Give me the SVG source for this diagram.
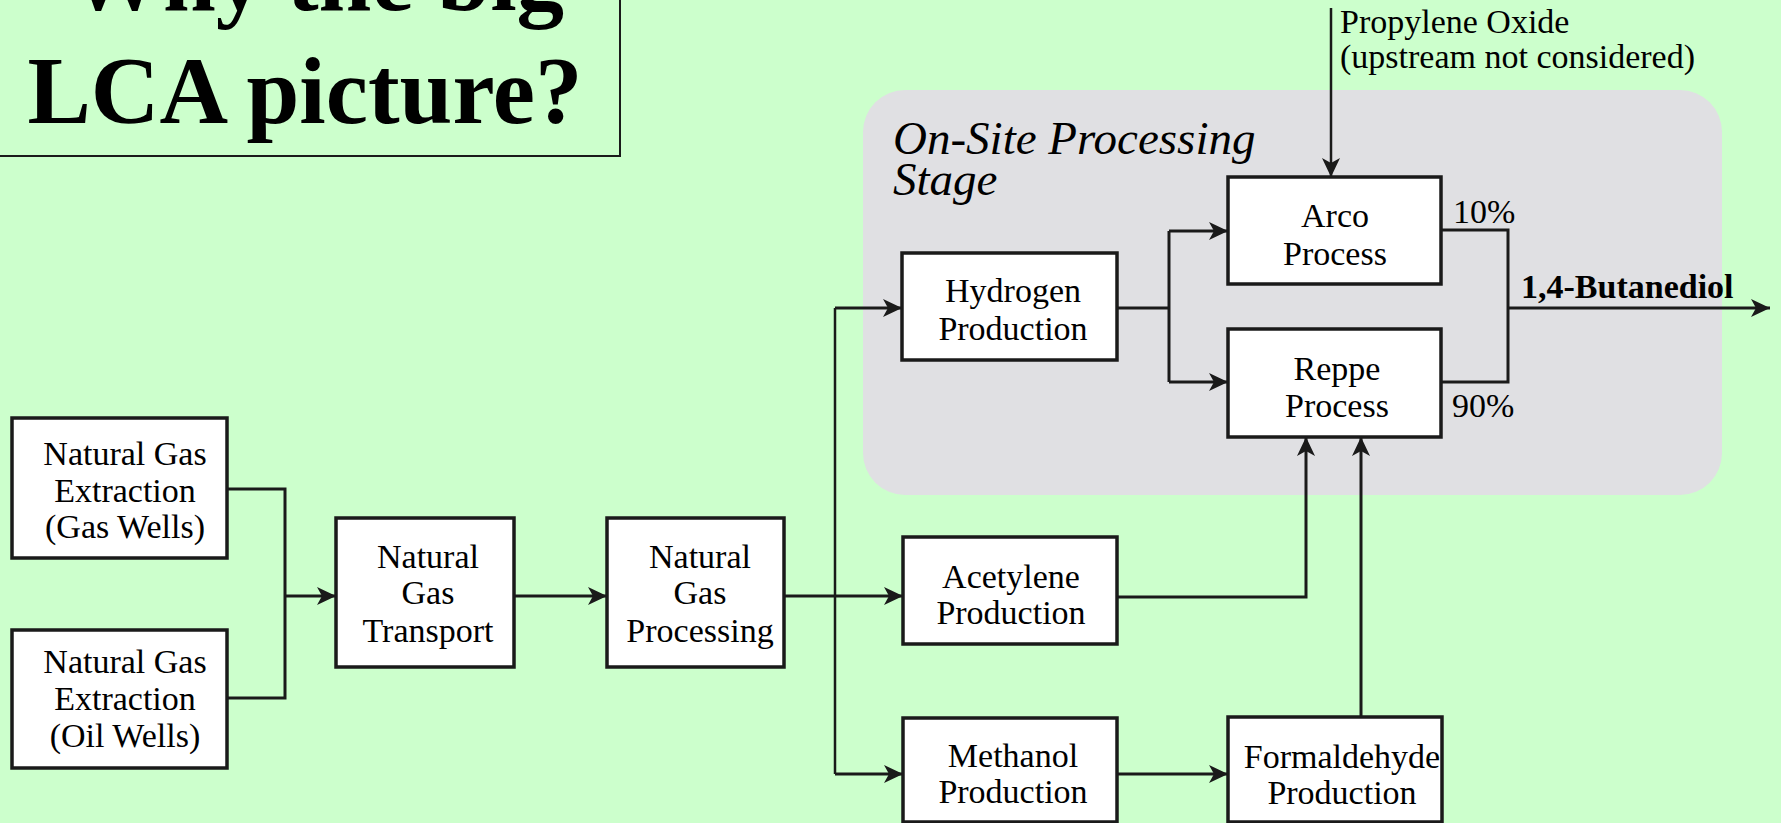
<svg xmlns="http://www.w3.org/2000/svg" width="1781" height="823" viewBox="0 0 1781 823">
<defs>
<marker id="ah" markerUnits="userSpaceOnUse" markerWidth="20" markerHeight="20" refX="19" refY="10" orient="auto">
<path d="M0,1 L19,10 L0,19 L5,10 Z" fill="#1a1a1a"/>
</marker>
<style>
.box{fill:#ffffff;stroke:#1a1a1a;stroke-width:3.5}
.lbl{font-family:"Liberation Serif","Times New Roman",serif;font-size:34px;fill:#000;text-anchor:middle}
.free{font-family:"Liberation Serif","Times New Roman",serif;font-size:34px;fill:#000}
.ln{fill:none;stroke:#1a1a1a;stroke-width:3}
.arr{fill:none;stroke:#1a1a1a;stroke-width:3;marker-end:url(#ah)}
.thin{fill:none;stroke:#1a1a1a;stroke-width:2.5}
</style>
</defs>
<rect x="0" y="0" width="1781" height="823" fill="#ccffcc"/>

<g id="title">
<rect x="-10" y="-60" width="630" height="216" fill="none" stroke="#1a1a1a" stroke-width="2"/>
<text x="316" y="10" font-family="'Liberation Serif','Times New Roman',serif" font-size="95" font-weight="bold" text-anchor="middle">Why the big</text>
<text x="305" y="123" font-family="'Liberation Serif','Times New Roman',serif" font-size="95" font-weight="bold" text-anchor="middle">LCA picture?</text>
</g>

<g id="onsite-stage">
<rect x="863" y="90" width="859" height="405" rx="42" ry="42" fill="#e0e0e3"/>
<text x="893" y="154" font-family="'Liberation Serif','Times New Roman',serif" font-size="47" font-style="italic">On-Site Processing</text>
<text x="893" y="195" font-family="'Liberation Serif','Times New Roman',serif" font-size="47" font-style="italic">Stage</text>
</g>

<g id="connectors">
<path class="ln" d="M227,489 H285 V698 H227"/>
<path class="arr" d="M285,596 H336"/>
<path class="arr" d="M514,596 H607"/>
<path class="arr" d="M784,596 H903"/>
<path class="thin" d="M835,308 V774"/>
<path class="arr" d="M835,308 H902"/>
<path class="arr" d="M835,774 H903"/>
<path class="ln" d="M1117,308 H1169"/>
<path class="ln" d="M1169,231 V382"/>
<path class="arr" d="M1169,231 H1228"/>
<path class="arr" d="M1169,382 H1228"/>
<path class="ln" d="M1441,230 H1508 V382 H1441"/>
<path class="arr" d="M1508,308 H1770"/>
<path class="arr" d="M1117,597 H1306 V437"/>
<path class="arr" d="M1361,717 V437"/>
<path class="arr" d="M1117,774 H1228"/>
<path class="arr" style="stroke-width:2.5" d="M1331,8 V177"/>
</g>

<g id="labels">
<text class="free" x="1453" y="223">10%</text>
<text class="free" x="1452" y="417">90%</text>
<text class="free" x="1521" y="298" font-weight="bold">1,4-Butanediol</text>
<text class="free" x="1340" y="33">Propylene Oxide</text>
<text class="free" x="1340" y="68">(upstream not considered)</text>
</g>

<g id="ng-extraction-gas">
<rect class="box" x="12" y="418" width="215" height="140"/>
<text class="lbl" x="125" y="465">Natural Gas</text>
<text class="lbl" x="125" y="502">Extraction</text>
<text class="lbl" x="125" y="538">(Gas Wells)</text>
</g>
<g id="ng-extraction-oil">
<rect class="box" x="12" y="630" width="215" height="138"/>
<text class="lbl" x="125" y="673">Natural Gas</text>
<text class="lbl" x="125" y="710">Extraction</text>
<text class="lbl" x="125" y="747">(Oil Wells)</text>
</g>
<g id="ng-transport">
<rect class="box" x="336" y="518" width="178" height="149"/>
<text class="lbl" x="428" y="568">Natural</text>
<text class="lbl" x="428" y="604">Gas</text>
<text class="lbl" x="428" y="642">Transport</text>
</g>
<g id="ng-processing">
<rect class="box" x="607" y="518" width="177" height="149"/>
<text class="lbl" x="700" y="568">Natural</text>
<text class="lbl" x="700" y="604">Gas</text>
<text class="lbl" x="700" y="642">Processing</text>
</g>
<g id="hydrogen">
<rect class="box" x="902" y="253" width="215" height="107"/>
<text class="lbl" x="1013" y="302">Hydrogen</text>
<text class="lbl" x="1013" y="340">Production</text>
</g>
<g id="arco">
<rect class="box" x="1228" y="177" width="213" height="107"/>
<text class="lbl" x="1335" y="227">Arco</text>
<text class="lbl" x="1335" y="265">Process</text>
</g>
<g id="reppe">
<rect class="box" x="1228" y="329" width="213" height="108"/>
<text class="lbl" x="1337" y="380">Reppe</text>
<text class="lbl" x="1337" y="417">Process</text>
</g>
<g id="acetylene">
<rect class="box" x="903" y="537" width="214" height="107"/>
<text class="lbl" x="1011" y="588">Acetylene</text>
<text class="lbl" x="1011" y="624">Production</text>
</g>
<g id="methanol">
<rect class="box" x="903" y="718" width="214" height="104"/>
<text class="lbl" x="1013" y="767">Methanol</text>
<text class="lbl" x="1013" y="803">Production</text>
</g>
<g id="formaldehyde">
<rect class="box" x="1228" y="717" width="214" height="105"/>
<text class="lbl" x="1342" y="768">Formaldehyde</text>
<text class="lbl" x="1342" y="804">Production</text>
</g>
</svg>
